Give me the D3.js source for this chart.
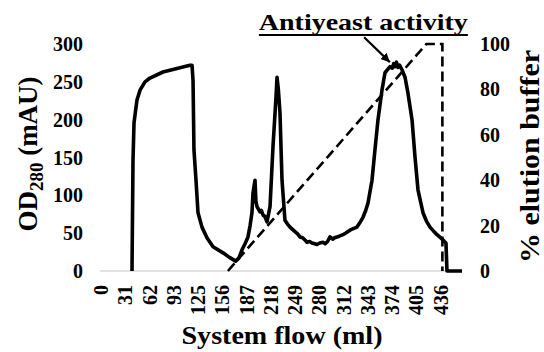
<!DOCTYPE html>
<html><head><meta charset="utf-8">
<script src="https://cdn.jsdelivr.net/npm/d3@7"></script>
<style>html,body{margin:0;padding:0;background:#fff;}svg{display:block;}</style>
</head><body>
<svg id="c" width="544" height="352" font-family="'Liberation Serif', 'Times New Roman', Times, 'DejaVu Serif', serif" font-weight="bold"></svg>
<script>
// ---- data ----
const xTickLabels = ["0","31","62","93","125","156","187","218","249","280","312","343","374","405","436"];
const xTickStep = 31.15;
const leftTicks = [0,50,100,150,200,250,300];
const rightTicks = [0,20,40,60,80,100];
const odFlow = [39.8,41.1,42.4,46.2,50.1,56.5,62.9,79.6,95,114.3,116.9,118.2,119.4,122,124.6,129.7,136.1,143.9,156.7,165,173,177,181.1,185,188.8,191.5,193.9,195.2,197.8,199,200.4,202,204.2,206,208.1,210.5,213.2,217.1,220.9,224.8,226.1,227.8,229.9,232.5,236.3,239.5,242.8,246,249.2,252.5,255.6,259,262,264.6,268,271,274.5,277.4,281,285.1,288,291,294.1,297.5,300,303.1,306,310.8,314,319.8,324,328.8,332,336.5,340,343,348.1,351.9,355.8,360.9,364.8,368,371.2,374,376,377.6,379.5,381.5,383.5,386.6,390.5,394.3,399.5,403.3,407.2,413.6,418,422.6,427,431.6,436,439.3,443.1,444.4,463.7];
const odValues = [0,147,196,226,239,250,255,263,267,272,272,252,160,120,77,58,44,32,24,18,13,17,28,36,45,60,77,103,120,92,85,82,78,80,74,72,65,85,164,230,256,240,209,120,67,62,58,55,52,49,45,44,41,38,39,37,36,35,37,38,36,39,45,42,44,45,46,48,50,54,56,58,63,71,80,90,120,160,200,239,262,266,270,268,274,270,276,269,272,266,256,235,200,151,107,77,66,58,53,48,44,41,37,0,0];
const gradFlow = [163,418,438.5,438.5];
const gradValues = [0,100,100,0];
const annotationText = "Antiyeast activity";
const arrowFrom = [338,309];
const arrowTo = [371,276];
const textPos = [337,318.5];

// ---- scales ----
const svg = d3.select("#c");
const x = d3.scaleLinear().domain([-1.3,463.7]).range([100,462]);
const yL = d3.scaleLinear().domain([0,300]).range([271,44]);
const yR = d3.scaleLinear().domain([0,100]).range([271,44]);

// baseline
svg.append("line").attr("x1",x.range()[0]).attr("x2",x.range()[1])
  .attr("y1",yL(0)).attr("y2",yL(0)).attr("stroke","#d9d9d9").attr("stroke-width",1.5);

// left axis labels
svg.append("g").selectAll("text").data(leftTicks).join("text")
  .attr("x",83).attr("y",d=>yL(d)).attr("dy","0.35em").attr("text-anchor","end")
  .attr("font-size",20).text(d=>d);
// right axis labels
svg.append("g").selectAll("text").data(rightTicks).join("text")
  .attr("x",480).attr("y",d=>yR(d)).attr("dy","0.35em").attr("text-anchor","start")
  .attr("font-size",20).text(d=>d);
// x labels
svg.append("g").selectAll("text").data(xTickLabels).join("text")
  .attr("transform",(d,i)=>`translate(${x(i*xTickStep)},285) rotate(-90)`)
  .attr("dy","0.35em").attr("text-anchor","end").attr("font-size",20).text(d=>d);

// gradient dashed line
const gradData = gradFlow.map((f,i)=>[f,gradValues[i]]);
svg.append("path").datum(gradData)
  .attr("d",d3.line().x(d=>x(d[0])).y(d=>yR(d[1])))
  .attr("fill","none").attr("stroke","#000").attr("stroke-width",2.6)
  .attr("stroke-dasharray","10,5");

// OD line
const odData = odFlow.map((f,i)=>[f,odValues[i]]);
svg.append("path").datum(odData)
  .attr("d",d3.line().x(d=>x(d[0])).y(d=>yL(d[1])))
  .attr("fill","none").attr("stroke","#000").attr("stroke-width",3.6)
  .attr("stroke-linejoin","round");

// annotation
svg.append("text").attr("x",x(textPos[0])).attr("y",yL(textPos[1]))
  .attr("text-anchor","middle").attr("font-size",24)
  .attr("textLength",209).attr("lengthAdjust","spacingAndGlyphs").text(annotationText);
svg.append("line").attr("x1",x(textPos[0])-104.5).attr("x2",x(textPos[0])+104.5)
  .attr("y1",yL(textPos[1])+5).attr("y2",yL(textPos[1])+5).attr("stroke","#000").attr("stroke-width",2);
svg.append("defs").append("marker").attr("id","ah").attr("viewBox","0 0 10 10")
  .attr("refX",10).attr("refY",5).attr("markerWidth",4).attr("markerHeight",4)
  .attr("orient","auto").append("path").attr("d","M0,0L10,5L0,10Z").attr("fill","#000");
svg.append("line").attr("x1",x(arrowFrom[0])).attr("y1",yL(arrowFrom[1]))
  .attr("x2",x(arrowTo[0])).attr("y2",yL(arrowTo[1]))
  .attr("stroke","#000").attr("stroke-width",2.2).attr("marker-end","url(#ah)");

// axis titles
svg.append("text").attr("x",282).attr("y",344).attr("text-anchor","middle")
  .attr("font-size",26).attr("textLength",201).attr("lengthAdjust","spacingAndGlyphs")
  .text("System flow (ml)");
const yt = svg.append("text").attr("transform","translate(37,154) rotate(-90)")
  .attr("text-anchor","middle").attr("font-size",27);
yt.append("tspan").text("OD");
yt.append("tspan").attr("font-size",19).attr("dy",6).text("280");
yt.append("tspan").attr("dy",-6).text(" (mAU)");
svg.append("text").attr("transform","translate(539,156.5) rotate(-90)")
  .attr("text-anchor","middle").attr("font-size",27)
  .attr("textLength",213).attr("lengthAdjust","spacingAndGlyphs")
  .text("% elution buffer");
</script>
</body></html>
